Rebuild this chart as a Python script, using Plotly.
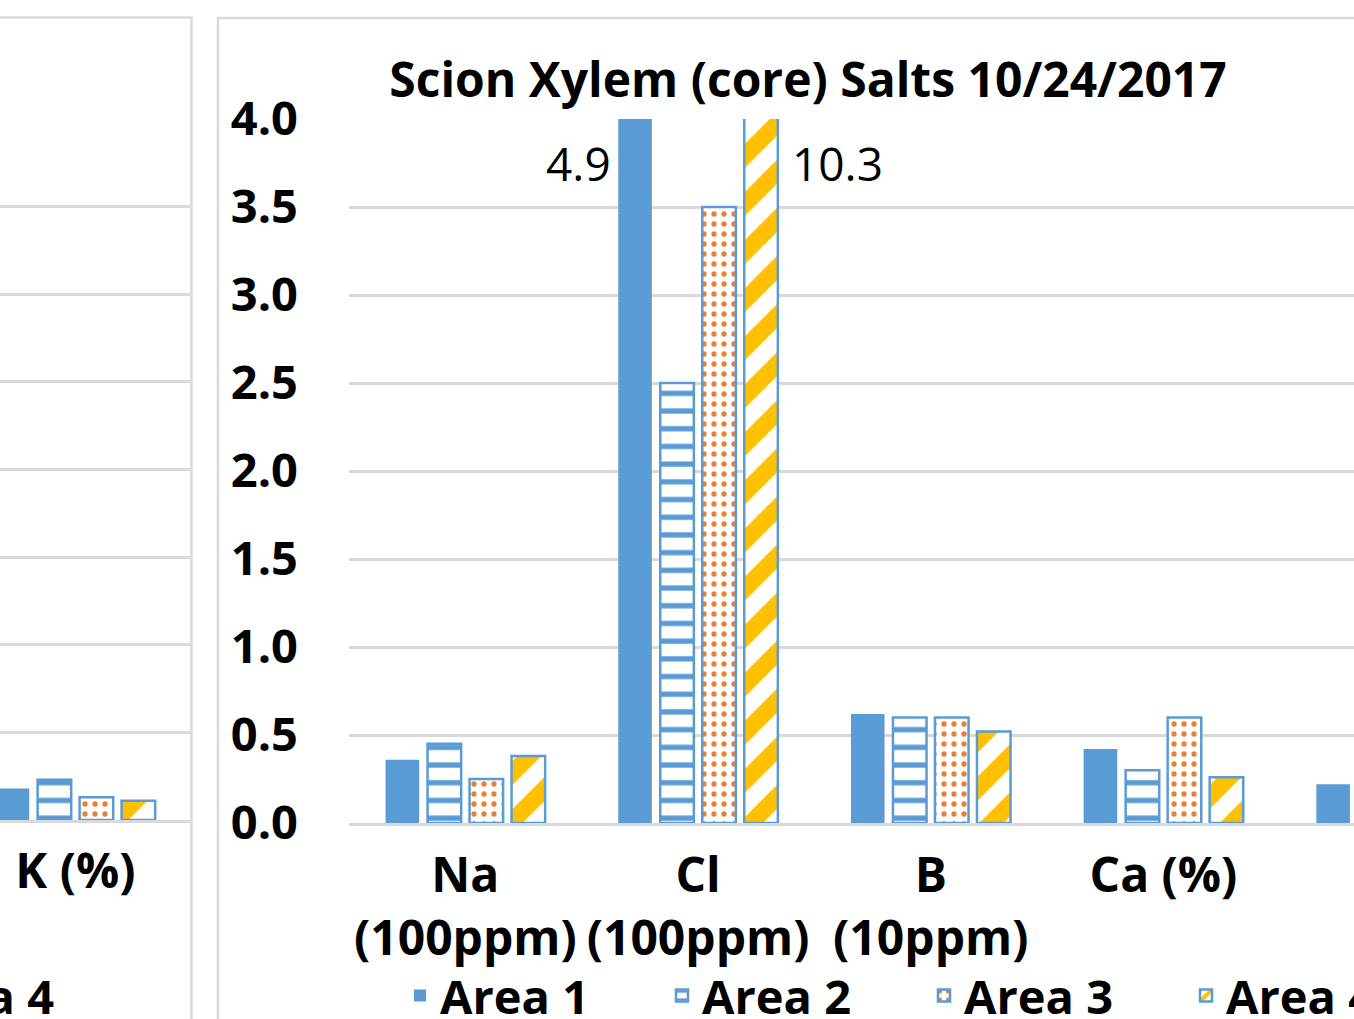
import plotly.graph_objects as go

# ---- data -------------------------------------------------------------
categories = ["Na (100ppm)", "Cl (100ppm)", "B (10ppm)", "Ca (%)", "K (%)"]
tick_labels = ["Na<br>(100ppm)", "Cl<br>(100ppm)", "B<br>(10ppm)", "Ca (%)", "K (%)"]
series_names = ["Area 1", "Area 2", "Area 3", "Area 4"]

area1 = [0.36, 4.9, 0.62, 0.42, 0.22]
area2 = [0.45, 2.5, 0.60, 0.30, None]
area3 = [0.25, 3.5, 0.60, 0.60, None]
area4 = [0.38, 10.3, 0.52, 0.26, None]

# neighbouring chart: only its K column is in view
left_categories = ["K (%)"]
left_area1 = [0.18]
left_area2 = [0.23]
left_area3 = [0.13]
left_area4 = [0.11]

y_ticks = [0.0, 0.5, 1.0, 1.5, 2.0, 2.5, 3.0, 3.5, 4.0]
y_max = 4.0

title_text = "Scion Xylem (core) Salts 10/24/2017"

# ---- styling ----------------------------------------------------------
W, H = 1354, 1019
BLUE = "#5B9BD5"
ORANGE = "#ED7D31"
GOLD = "#FFC000"
GRID = "#D9D9D9"
FONT = "Open Sans"

def px_x(p):
    return p / W

def px_y(p):
    return 1 - p / H

markers = [
    dict(color=BLUE, line=dict(width=0)),
    dict(color="white",
         pattern=dict(shape="-", fgcolor=BLUE, bgcolor="white", size=17.7,
                      solidity=0.3, fgopacity=1),
         line=dict(color=BLUE, width=2.5)),
    dict(color="white",
         pattern=dict(shape=".", fgcolor=ORANGE, bgcolor="white", size=10,
                      solidity=0.22, fgopacity=1),
         line=dict(color=BLUE, width=2.5)),
    dict(color="white",
         pattern=dict(shape="/", fgcolor=GOLD, bgcolor="white", size=34,
                      solidity=0.5, fgopacity=1),
         line=dict(color=BLUE, width=2.5)),
]

main_series = [area1, area2, area3, area4]
left_series = [left_area1, left_area2, left_area3, left_area4]

fig = go.Figure()

for name, vals, mk in zip(series_names, main_series, markers):
    fig.add_trace(go.Bar(x=categories, y=vals, name=name, marker=mk,
                         xaxis="x", yaxis="y", legend="legend"))

for name, vals, mk in zip(series_names, left_series, markers):
    fig.add_trace(go.Bar(x=left_categories, y=vals, name=name, marker=mk,
                         xaxis="x2", yaxis="y2", legend="legend2"))

# value labels for bars that run past the top of the axis
cat_w = 232.7
slot = 42
label_font = dict(family=FONT, size=46, color="black")
for i, vals in enumerate(main_series):
    for cat, v in zip(categories, vals):
        if v is not None and v > y_max:
            bar_off = (i - 1.5) * slot
            left_side = i < 2
            fig.add_annotation(x=cat, y=y_max - 0.25, xref="x", yref="y",
                               text=f"{v:.1f}", showarrow=False,
                               xanchor="right" if left_side else "left",
                               xshift=bar_off - 22 if left_side else bar_off + 29,
                               font=label_font)

def bold(size):
    return dict(family=FONT, size=size, color="black", weight="bold")

main_left = 349
fig.update_layout(
    width=W, height=H,
    margin=dict(l=0, r=0, t=0, b=0, autoexpand=False),
    paper_bgcolor="white", plot_bgcolor="white",
    barmode="group", bargap=0.278, bargroupgap=0.2,
    title=dict(text=title_text, x=px_x(808), xref="paper", xanchor="center",
               y=px_y(80), yref="paper", yanchor="middle", font=bold(48)),
    xaxis=dict(domain=[px_x(main_left), 1], anchor="y",
               type="category", categoryorder="array", categoryarray=categories,
               range=[-0.5, -0.5 + (W - main_left) / cat_w],
               tickvals=categories, ticktext=tick_labels, tickfont=bold(48),
               showline=True, linecolor=GRID, linewidth=2.5,
               showgrid=False, ticks="", ticklabelstandoff=9),
    yaxis=dict(domain=[px_y(823), px_y(119)], anchor="x",
               range=[0, y_max], tickvals=y_ticks, tickformat=".1f", tickfont=bold(47),
               showgrid=True, gridcolor=GRID, gridwidth=2.5,
               zeroline=False, showline=False, ticks="", ticklabelstandoff=50),
    xaxis2=dict(domain=[0, px_x(191)], anchor="y2",
                type="category", range=[-75.4 / cat_w, (191 - 75.4) / cat_w],
                tickfont=bold(48), showline=True, linecolor=GRID, linewidth=2.5,
                showgrid=False, ticks="", ticklabelstandoff=8),
    yaxis2=dict(domain=[px_y(820), px_y(119)], anchor="x2",
                range=[0, y_max], tickvals=y_ticks, showticklabels=False,
                showgrid=True, gridcolor=GRID, gridwidth=2.5,
                zeroline=False, showline=False, ticks=""),
    legend=dict(orientation="h", x=px_x(400), xanchor="left",
                y=px_y(996), yanchor="middle",
                entrywidth=217, entrywidthmode="pixels",
                bgcolor="rgba(0,0,0,0)", font=bold(47)),
    legend2=dict(orientation="h", x=px_x(127), xanchor="right",
                 y=px_y(996), yanchor="middle",
                 entrywidth=217, entrywidthmode="pixels",
                 bgcolor="rgba(0,0,0,0)", font=bold(47)),
    shapes=[
        dict(type="rect", xref="paper", yref="paper",
             x0=-0.02, x1=px_x(191.5), y0=-0.02, y1=px_y(17.5),
             line=dict(color=GRID, width=2.5), fillcolor="rgba(0,0,0,0)", layer="below"),
        dict(type="rect", xref="paper", yref="paper",
             x0=px_x(218), x1=1.02, y0=-0.02, y1=px_y(18),
             line=dict(color=GRID, width=2.5), fillcolor="rgba(0,0,0,0)", layer="below"),
    ],
)

fig.write_html("out.html")
